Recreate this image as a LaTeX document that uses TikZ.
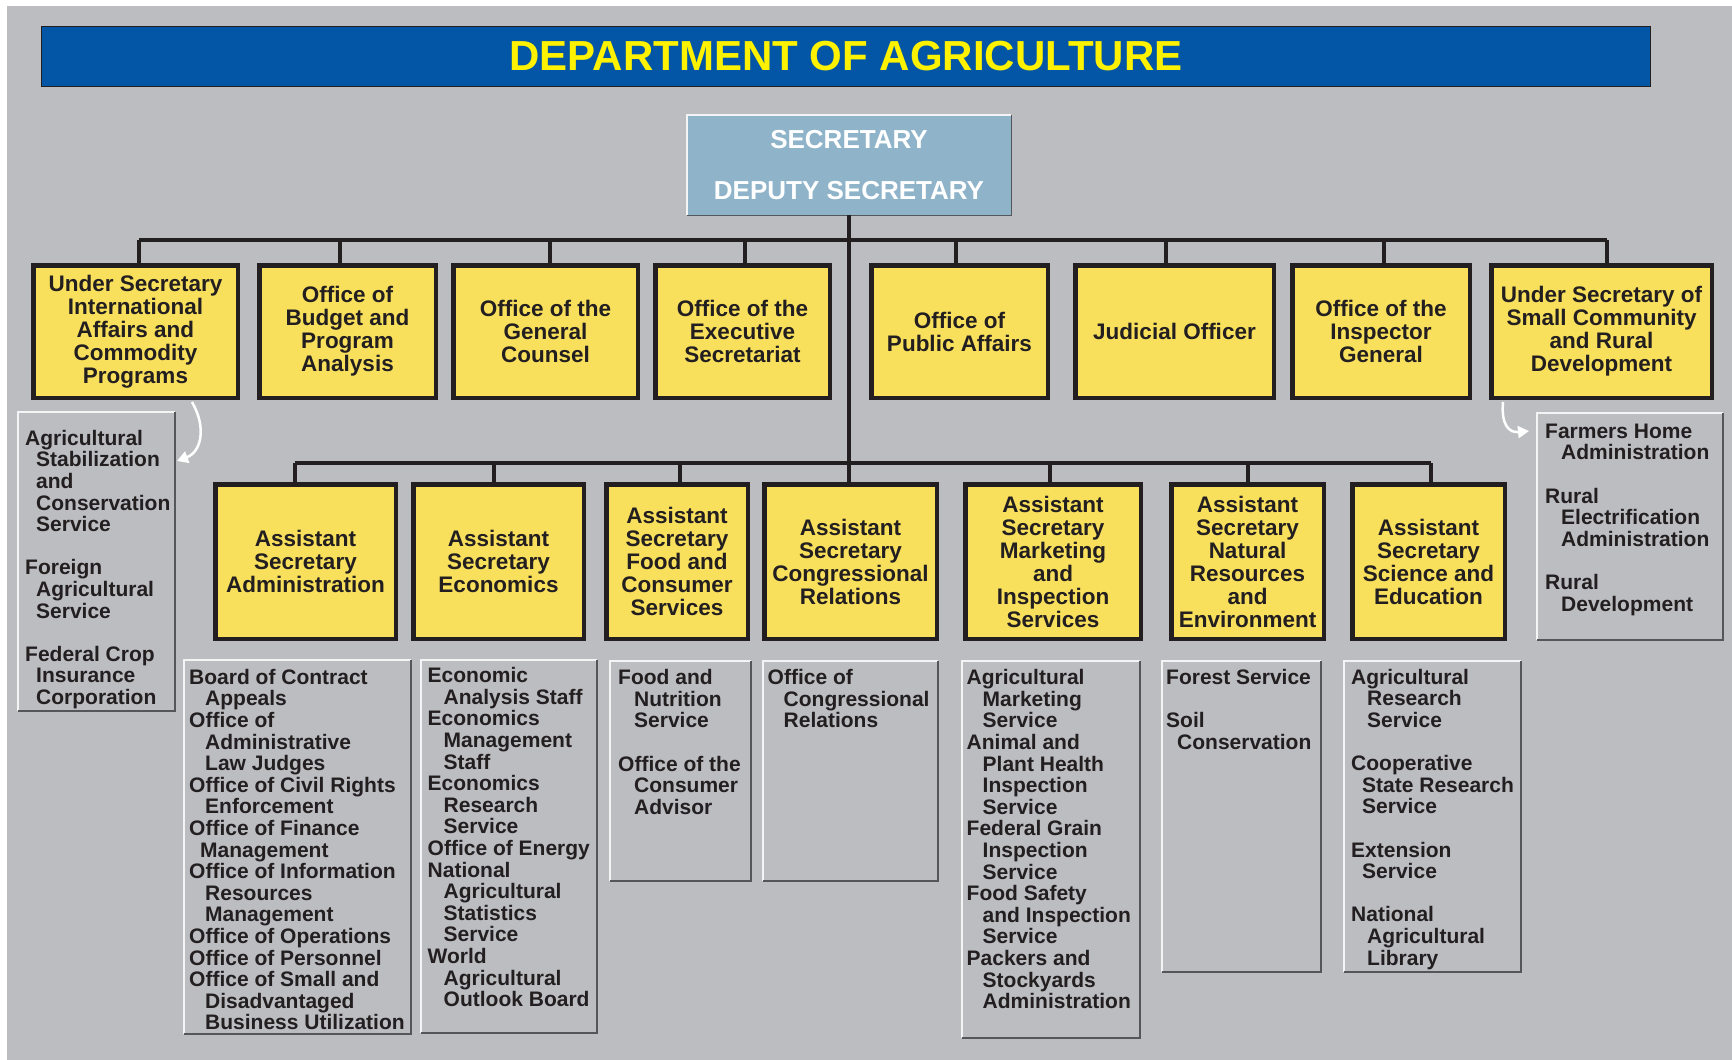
\documentclass[tikz,border=0pt]{standalone}
\usepackage{fontspec}
\setmainfont{Liberation Sans}
\usetikzlibrary{arrows.meta,calc}
\definecolor{bggrey}{HTML}{BCBDC1}
\definecolor{titleblue}{HTML}{0256A5}
\definecolor{titleyellow}{HTML}{FFF200}
\definecolor{secblue}{HTML}{8FB4CA}
\definecolor{boxyellow}{HTML}{F8E05D}
\definecolor{inkc}{HTML}{231F20}
\definecolor{hlc}{HTML}{F4F4F4}
\definecolor{shc}{HTML}{55565A}
\newcommand\myind{\hspace*{16pt}}
\newcommand\myindb{\hspace*{11pt}}
\newcommand\firststrut{\rule{0pt}{16pt}}
\newcommand\bevelbox[1]{\draw[hl] (#1.south west) |- (#1.north east); \draw[sh] (#1.north east) |- (#1.south west);}
\begin{document}
\begin{tikzpicture}[x=1pt,y=-1pt,
  conn/.style={draw=inkc,line width=3.5pt},
  ybox/.style={draw=inkc,line width=4.5pt,fill=boxyellow,inner sep=0pt,outer sep=0pt,align=center,text=inkc,font=\fontsize{22.5}{23}\selectfont\bfseries},
  topbox/.style={ybox,minimum height=132.5pt},
  lowbox/.style={ybox,minimum height=154.5pt},
  listbox/.style={draw=none,inner sep=0pt,outer sep=0pt},
  hl/.style={draw=hlc,line width=1.5pt},
  sh/.style={draw=shc,line width=1.5pt},
  listtext/.style={anchor=north west,inner sep=0pt,align=left,text=inkc,font=\fontsize{21}{21.6}\selectfont\bfseries},
  warrow/.style={draw=white,line width=2.5pt,-{Triangle[length=11pt,width=12pt]}},
]
\useasboundingbox (0,0) rectangle (1732,1060);
\fill[white] (0,0) rectangle (1732,1060);
\fill[bggrey] (7,6) rectangle (1732,1060);

% title
\node[draw=inkc,line width=1pt,fill=titleblue,minimum width=1609pt,minimum height=60pt,inner sep=0pt,outer sep=0pt,
      text=titleyellow,font=\fontsize{42}{42}\selectfont\bfseries] (title) at (846,56.5) {DEPARTMENT OF AGRICULTURE};

% secretary
\node[fill=secblue,minimum width=324.5pt,minimum height=100.5pt,inner sep=0pt,outer sep=0pt,align=center,
      text=white,font=\fontsize{26}{51}\selectfont\bfseries] (sec) at (849,165) {SECRETARY\\DEPUTY SECRETARY};
\bevelbox{sec}

% top row
\node[topbox,minimum width=204.5pt] (b1) at (135.5,331.5) {Under Secretary\\International\\Affairs and\\Commodity\\Programs};
\node[topbox,minimum width=176.5pt] (b2) at (347.5,331.5) {Office of\\Budget and\\Program\\Analysis};
\node[topbox,minimum width=184.5pt] (b3) at (545.5,331.5) {Office of the\\General\\Counsel};
\node[topbox,minimum width=174.5pt] (b4) at (742.5,331.5) {Office of the\\Executive\\Secretariat};
\node[topbox,minimum width=176.5pt] (b5) at (959.5,331.5) {Office of\\Public Affairs};
\node[topbox,minimum width=198.5pt] (b6) at (1174.5,331.5) {Judicial Officer};
\node[topbox,minimum width=177.5pt] (b7) at (1381,331.5) {Office of the\\Inspector\\General};
\node[topbox,minimum width=220.5pt] (b8) at (1601.5,331.5) {Under Secretary of\\Small Community\\and Rural\\Development};

% lower row
\node[lowbox,minimum width=180.5pt] (c1) at (305.5,561.5) {Assistant\\Secretary\\Administration};
\node[lowbox,minimum width=170.5pt] (c2) at (498.5,561.5) {Assistant\\Secretary\\Economics};
\node[lowbox,minimum width=141.5pt] (c3) at (677,561.5) {Assistant\\Secretary\\Food and\\Consumer\\Services};
\node[lowbox,minimum width=172.5pt] (c4) at (850.5,561.5) {Assistant\\Secretary\\Congressional\\Relations};
\node[lowbox,minimum width=175.5pt] (c5) at (1053,561.5) {Assistant\\Secretary\\Marketing\\and\\Inspection\\Services};
\node[lowbox,minimum width=152.5pt] (c6) at (1247.5,561.5) {Assistant\\Secretary\\Natural\\Resources\\and\\Environment};
\node[lowbox,minimum width=152.5pt] (c7) at (1428.5,561.5) {Assistant\\Secretary\\Science and\\Education};

% connectors
\coordinate (topbar) at (849,240);
\coordinate (lowbar) at (849,463);
\draw[conn] (sec.south) -- (sec.south |- c4.north);
\draw[conn] ([xshift=3.5pt]b1.north |- topbar) -- ([xshift=5.5pt]b8.north |- topbar);
\foreach \n/\dx in {b1/3.5,b2/-7.5,b3/4.5,b4/2.5,b5/-3.5,b6/-8.5,b7/3,b8/5.5}
  \draw[conn] ([xshift=\dx pt]\n.north) -- ([xshift=\dx pt]\n.north |- topbar);
\draw[conn] ([xshift=-10.5pt]c1.north |- lowbar) -- ([xshift=2.5pt]c7.north |- lowbar);
\foreach \n/\dx in {c1/-10.5,c2/-4.5,c3/3,c5/-3,c6/0.5,c7/2.5}
  \draw[conn] ([xshift=\dx pt]\n.north) -- ([xshift=\dx pt]\n.north |- lowbar);

% list boxes
\node[listbox,minimum width=157pt,minimum height=299pt] (l0) at (96.5,561.5) {};
\node[listbox,minimum width=227pt,minimum height=374pt] (l1) at (297.5,847) {};
\node[listbox,minimum width=176pt,minimum height=373pt] (l2) at (509,846.5) {};
\node[listbox,minimum width=141pt,minimum height=220pt] (l3) at (680.5,771) {};
\node[listbox,minimum width=175pt,minimum height=220pt] (l4) at (850.5,771) {};
\node[listbox,minimum width=178pt,minimum height=377pt] (l5) at (1051,849.5) {};
\node[listbox,minimum width=159pt,minimum height=311pt] (l6) at (1241.5,816.5) {};
\node[listbox,minimum width=177pt,minimum height=311pt] (l7) at (1432.5,816.5) {};
\node[listbox,minimum width=186pt,minimum height=227pt] (l8) at (1630,526.5) {};
\foreach \n in {l0,l1,l2,l3,l4,l5,l6,l7,l8} {\bevelbox{\n}}

% list texts
\node[listtext] (t0) at (25,429) {\firststrut Agricultural\\\myindb Stabilization\\\myindb and\\\myindb Conservation\\\myindb Service\\[21.6pt]Foreign\\\myindb Agricultural\\\myindb Service\\[21.6pt]Federal Crop\\\myindb Insurance\\\myindb Corporation};
\node[listtext] (t1) at (189,668) {\firststrut Board of Contract\\\myind Appeals\\Office of\\\myind Administrative\\\myind Law Judges\\Office of Civil Rights\\\myind Enforcement\\Office of Finance\\\myindb Management\\Office of Information\\\myind Resources\\\myind Management\\Office of Operations\\Office of Personnel\\Office of Small and\\\myind Disadvantaged\\\myind Business Utilization};
\node[listtext] (t2) at (427.5,666.5) {\firststrut Economic\\\myind Analysis Staff\\Economics\\\myind Management\\\myind Staff\\Economics\\\myind Research\\\myind Service\\Office of Energy\\National\\\myind Agricultural\\\myind Statistics\\\myind Service\\World\\\myind Agricultural\\\myind Outlook Board};
\node[listtext] (t3) at (618,668.5) {\firststrut Food and\\\myind Nutrition\\\myind Service\\[21.6pt]Office of the\\\myind Consumer\\\myind Advisor};
\node[listtext] (t4) at (767.5,668.5) {\firststrut Office of\\\myind Congressional\\\myind Relations};
\node[listtext] (t5) at (966.5,668.5) {\firststrut Agricultural\\\myind Marketing\\\myind Service\\Animal and\\\myind Plant Health\\\myind Inspection\\\myind Service\\Federal Grain\\\myind Inspection\\\myind Service\\Food Safety\\\myind and Inspection\\\myind Service\\Packers and\\\myind Stockyards\\\myind Administration};
\node[listtext] (t6) at (1166,668) {\firststrut Forest Service\\[21.6pt]Soil\\\myindb Conservation};
\node[listtext] (t7) at (1351,668) {\firststrut Agricultural\\\myind Research\\\myind Service\\[21.6pt]Cooperative\\\myindb State Research\\\myindb Service\\[21.6pt]Extension\\\myindb Service\\[21.6pt]National\\\myind Agricultural\\\myind Library};
\node[listtext] (t8) at (1545,422) {\firststrut Farmers Home\\\myind Administration\\[21.6pt]Rural\\\myind Electrification\\\myind Administration\\[21.6pt]Rural\\\myind Development};

% white arrows
\coordinate (aLs) at (192,402);
\coordinate (aLe) at (177,461);
\draw[warrow] (aLs) .. controls (207,428) and (201,452) .. (aLe);
\coordinate (aRs) at (1503,402);
\coordinate (aRe) at (1529,431);
\draw[warrow] (aRs) .. controls (1501,425) and (1509,433) .. (aRe);
\end{tikzpicture}
\end{document}
